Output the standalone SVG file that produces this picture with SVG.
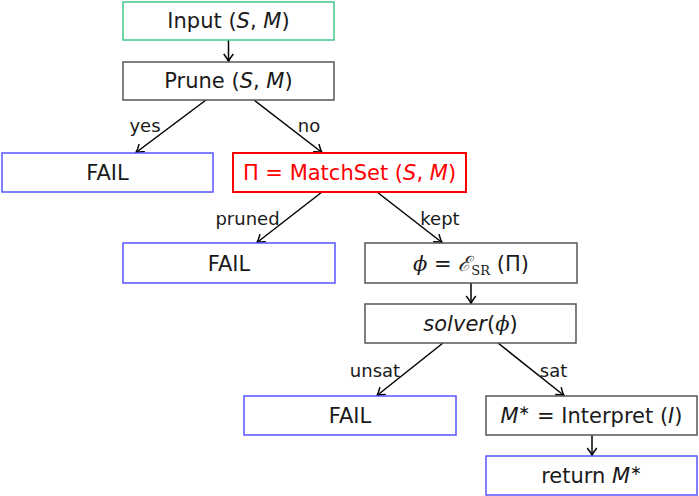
<svg xmlns="http://www.w3.org/2000/svg" width="699" height="496" viewBox="0 0 699 496">
<defs>
<marker id="arr" viewBox="-9 -6 11 12" refX="0" refY="0" markerWidth="11" markerHeight="12" markerUnits="userSpaceOnUse" orient="auto">
<path d="M-7.5,-4.8 Q-3,-1.2 0,0 Q-3,1.2 -7.5,4.8" fill="none" stroke="#000" stroke-width="1.5"/>
</marker>
<style>
.box{fill:#fff;stroke-width:1.5}
.gray{stroke:#555}
.blue{stroke:#5555ff}
.green{stroke:#44c888}
.red{stroke:#ff0000;stroke-width:2}
.t{font-family:"DejaVu Sans",sans-serif;font-size:21px;fill:#1a1a1a;text-anchor:middle}
.lbl{font-family:"DejaVu Sans",sans-serif;font-size:18px;fill:#1a1a1a;text-anchor:middle}
.it{font-style:italic}
.mm{font-family:"DejaVu Serif",serif;font-style:italic}
.sub{font-family:"DejaVu Serif",serif;font-size:13px}
.edge{stroke:#000;stroke-width:1.5;fill:none;marker-end:url(#arr)}
</style>
</defs>
<g id="edges">
<line class="edge" x1="228.5" y1="40" x2="228.5" y2="61.5"/>
<line class="edge" x1="206" y1="100" x2="136" y2="152.5"/>
<line class="edge" x1="254" y1="100" x2="322" y2="152.5"/>
<line class="edge" x1="322" y1="192" x2="257" y2="242.5"/>
<line class="edge" x1="377" y1="192" x2="442" y2="242.5"/>
<line class="edge" x1="471" y1="283" x2="471" y2="303.5"/>
<line class="edge" x1="443" y1="343" x2="377" y2="395.5"/>
<line class="edge" x1="498" y1="343" x2="564" y2="395.5"/>
<line class="edge" x1="592" y1="435" x2="592" y2="455.5"/>
<text class="lbl" x="145" y="132">yes</text>
<text class="lbl" x="309" y="132">no</text>
<text class="lbl" x="247.5" y="225">pruned</text>
<text class="lbl" x="440" y="225">kept</text>
<text class="lbl" x="375" y="377">unsat</text>
<text class="lbl" x="553.5" y="377">sat</text>
</g>
<g id="input">
<rect class="box green" x="123" y="2" width="211" height="38"/>
<text class="t" x="228.5" y="28">Input (<tspan class="it">S</tspan>, <tspan class="it">M</tspan>)</text>
</g>
<g id="prune">
<rect class="box gray" x="123" y="62" width="211" height="38"/>
<text class="t" x="228.5" y="88">Prune (<tspan class="it">S</tspan>, <tspan class="it">M</tspan>)</text>
</g>
<g id="fail1">
<rect class="box blue" x="2" y="153" width="211" height="39"/>
<text class="t" x="107.5" y="180">FAIL</text>
</g>
<g id="matchset">
<rect class="box red" x="233" y="153" width="233" height="39"/>
<text class="t" x="349.5" y="180" style="fill:#ff0000">Π = MatchSet (<tspan class="it">S</tspan>, <tspan class="it">M</tspan>)</text>
</g>
<g id="fail2">
<rect class="box blue" x="123" y="243" width="212" height="40"/>
<text class="t" x="229" y="271">FAIL</text>
</g>
<g id="encode">
<rect class="box gray" x="365" y="243" width="212" height="40"/>
<text class="t" x="471" y="271"><tspan class="mm">ϕ</tspan> = <tspan class="mm">ℰ</tspan><tspan class="sub" dy="4">SR</tspan><tspan dy="-4"> (Π)</tspan></text>
</g>
<g id="solver">
<rect class="box gray" x="365" y="304" width="211" height="39"/>
<text class="t" x="470.5" y="331"><tspan class="it">solver</tspan>(<tspan class="mm">ϕ</tspan>)</text>
</g>
<g id="fail3">
<rect class="box blue" x="244" y="396" width="212" height="39"/>
<text class="t" x="350" y="423">FAIL</text>
</g>
<g id="interpret">
<rect class="box gray" x="486" y="396" width="211" height="39"/>
<text class="t" x="591.5" y="423"><tspan class="it">M</tspan><tspan font-size="14" dy="-8">∗</tspan><tspan dy="8"> = Interpret (</tspan><tspan class="it">I</tspan>)</text>
</g>
<g id="return">
<rect class="box blue" x="486" y="456" width="211" height="39"/>
<text class="t" x="591.5" y="483">return <tspan class="it">M</tspan><tspan font-size="14" dy="-8">∗</tspan></text>
</g>
</svg>
